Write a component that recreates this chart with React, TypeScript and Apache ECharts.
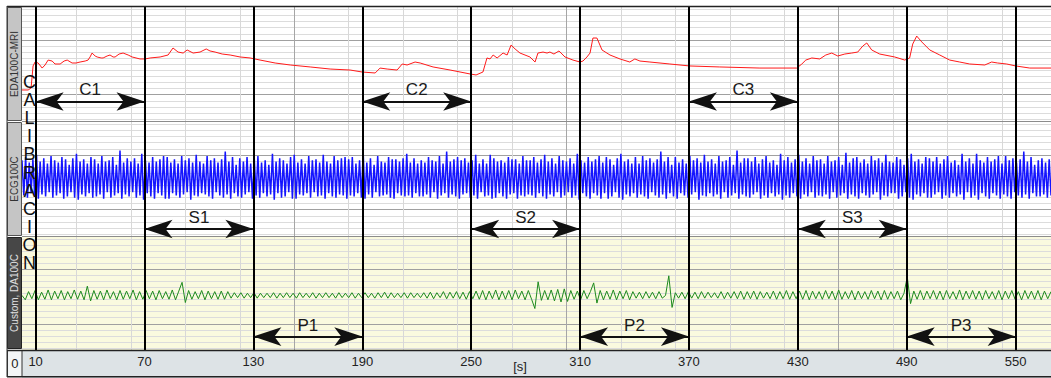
import React, { useEffect, useRef } from 'react';
import * as echarts from 'echarts';

const FONT = '"Liberation Sans", Arial, sans-serif';

// time axis (s)
const X_MIN = 2.5;
const X_MAX = 569.5;
const MARKERS = [10, 70, 130, 190, 250, 310, 370, 430, 490, 550];
const TICK_LABELS = [10, 70, 130, 190, 250, 310, 370, 430, 490, 550];
const X_MINOR = [32.5, 62.5, 92.5, 122.5, 182.5, 212.5, 242.5, 272.5, 332.5, 362.5, 392.5, 422.5, 482.5, 512.5, 542.5];
const X_MAJOR = [152.5, 302.5, 452.5];

// panel value axes (divisions)
const Y_MIN = -2.4;
const Y_MAX = 8;
const Y_MAJOR = [0, 5];

const PANEL_NAMES = ['EDA100C-MRI', 'ECG100C', 'Custom, DA100C'];

const C_SEGMENTS = [[10, 70], [190, 250], [370, 430]];
const C_LABELS = ['C1', 'C2', 'C3'];
const S_SEGMENTS = [[70, 130], [250, 310], [430, 490]];
const S_LABELS = ['S1', 'S2', 'S3'];
const P_SEGMENTS = [[130, 190], [310, 370], [490, 550]];
const P_LABELS = ['P1', 'P2', 'P3'];

// EDA trace
const EDA_T = [2.5, 5.9, 7.5, 8.6, 9.7, 11.4, 13.6, 15.2, 16.9, 19.1, 20.7, 23.5, 25.7, 27.4, 30.1, 32.3, 34.5, 37.3, 38.9, 40.0, 41.1, 42.8, 43.9, 46.1, 47.2, 49.4, 51.0, 52.7, 53.8, 56.0, 58.2, 61.0, 63.2, 67.5, 70.3,
  73.1, 78.6, 83.0, 85.7, 88.5, 91.3, 93.5, 96.8, 100.6, 104.0, 106.1, 108.9, 112.8, 117.2, 122.7, 128.2, 133.7, 142.0, 150.3, 161.3, 172.3, 183.3, 189.9,
  197.1, 199.8, 203.7, 209.2, 212.0, 214.7, 219.1, 221.9, 229.0, 238.4, 249.4, 252.7, 256.5, 258.7, 260.4, 262.1, 264.3, 267.6, 269.8, 272.0, 274.2, 276.9, 282.4, 285.2, 286.8, 289.6, 291.8, 293.4, 295.6, 298.4, 301.7, 306.1, 310.0, 311.6, 313.8, 315.5, 317.1, 319.3, 322.1, 326.5, 332.0, 337.4, 340.2, 343.0, 348.5,
  359.5, 370.5, 387.0, 409.1, 429.4, 432.2, 434.4, 437.7, 442.1, 445.4, 448.7, 452.0, 455.9, 459.7, 463.0, 465.8, 468.0, 470.7, 475.1, 483.4, 488.9, 491.6, 493.3, 495.5, 498.3, 502.7, 508.2, 513.7, 519.2, 524.7, 533.0, 536.8, 540.1, 545.1, 550.1, 557.8, 569.5];
const EDA_V = [0.43, 0.43, 0.61, 2.62, 2.98, 2.89, 2.43, 2.71, 3.16, 3.07, 2.80, 2.80, 3.07, 3.16, 2.89, 2.89, 2.98, 3.07, 3.16, 3.44, 3.80, 3.53, 3.44, 3.35, 3.35, 3.53, 3.62, 3.44, 3.44, 3.71, 3.80, 3.62, 3.44, 3.26, 3.26,
  3.35, 3.44, 3.62, 4.26, 3.89, 3.80, 4.08, 3.80, 3.89, 4.17, 3.99, 3.89, 3.71, 3.62, 3.44, 3.35, 3.16, 2.89, 2.71, 2.53, 2.34, 2.25, 2.07,
  1.98, 2.43, 2.34, 2.25, 2.80, 2.71, 2.98, 2.89, 2.53, 2.25, 1.89, 1.80, 2.07, 3.35, 3.26, 3.62, 3.35, 3.80, 3.62, 4.53, 4.17, 3.80, 3.44, 2.98, 3.80, 3.89, 3.80, 3.89, 3.71, 3.99, 3.44, 3.16, 2.98, 3.07, 3.44, 3.80, 5.17, 5.17, 4.08, 3.62, 3.26, 2.98, 3.26, 3.07, 2.98,
  2.80, 2.62, 2.53, 2.43, 2.43, 2.80, 3.16, 3.35, 3.26, 3.62, 3.80, 3.53, 3.71, 3.80, 3.89, 4.44, 4.72, 4.08, 3.71, 3.44, 3.16, 3.35, 4.62, 5.35, 4.81, 4.08, 3.62, 3.16, 2.98, 2.80, 2.71, 2.98, 2.89, 2.80, 2.62, 2.43, 2.43];

// ECG trace, one sample per second from X_MIN
const ECG_STEP = 1.0;
const ECG = [
  4.5, 1.3, 4.8, 1.1, 4.3, 1.5, 4.6, 1.2, 5.0, 1.0, 4.4, 1.4, 4.7, 1.2, 4.2, 1.6, 4.9, 1.1, 4.5, 1.3,
  4.3, 1.5, 4.8, 1.0, 4.6, 1.2, 4.1, 1.6, 4.7, 1.1, 5.1, 0.9, 4.4, 1.4, 4.6, 1.2, 4.2, 1.5, 4.8, 1.1,
  4.6, 1.2, 4.2, 1.4, 4.9, 1.0, 4.4, 1.6, 4.5, 1.1, 4.8, 1.3, 4.1, 1.5, 5.4, 1.0, 4.3, 1.4, 4.7, 1.2,
  4.4, 1.6, 4.7, 1.1, 4.2, 1.3, 5.1, 0.9, 4.5, 1.5, 4.3, 1.2, 4.8, 1.0, 4.4, 1.5, 4.6, 1.3, 4.9, 1.0,
  4.8, 1.0, 4.3, 1.5, 4.6, 1.3, 4.2, 1.1, 4.9, 1.4, 4.5, 1.6, 4.7, 0.9, 4.3, 1.3, 5.0, 1.2, 4.4, 1.5,
  4.2, 1.4, 4.9, 1.2, 4.5, 1.0, 4.7, 1.6, 4.3, 1.3, 4.6, 1.1, 5.3, 1.4, 4.4, 1.0, 4.8, 1.5, 4.1, 1.2,
  4.7, 1.1, 4.4, 1.4, 4.8, 1.6, 4.2, 1.0, 4.6, 1.3, 4.9, 1.1, 4.3, 1.5, 4.5, 1.2, 4.1, 1.4, 5.1, 0.9,
  4.4, 1.5, 4.7, 1.1, 4.5, 1.2, 4.2, 1.6, 4.8, 1.0, 5.0, 1.0, 4.3, 1.4, 4.6, 1.3, 4.2, 1.5, 4.9, 1.1,
  4.5, 1.6, 4.6, 1.2, 4.3, 1.3, 5.0, 1.0, 4.4, 1.5, 4.2, 1.2, 4.9, 1.1, 4.5, 1.4, 4.7, 1.3, 4.8, 1.0,
  4.6, 1.3, 4.8, 1.2, 4.2, 1.5, 4.5, 1.1, 5.2, 1.0, 4.3, 1.4, 4.7, 1.1, 4.1, 1.6, 4.9, 1.2, 4.4, 1.3,
  4.3, 1.4, 4.8, 1.1, 4.6, 1.0, 4.6, 1.5, 4.4, 1.3, 4.7, 1.2, 5.1, 1.3, 4.3, 1.1, 4.7, 1.5, 4.2, 1.2,
  4.5, 1.2, 4.3, 1.4, 4.8, 1.1, 4.5, 1.6, 4.4, 1.0, 4.9, 1.3, 4.2, 1.5, 5.3, 1.1, 4.4, 1.4, 4.6, 1.2,
  4.8, 1.0, 4.5, 1.4, 4.7, 1.5, 4.3, 1.1, 4.5, 1.3, 5.0, 1.0, 4.2, 1.6, 4.6, 1.2, 4.2, 1.3, 5.0, 1.0,
  4.7, 1.1, 4.4, 1.5, 4.5, 1.2, 4.3, 1.0, 4.8, 1.4, 4.6, 1.5, 4.6, 1.0, 4.2, 1.3, 4.9, 1.2, 4.5, 1.4,
  4.5, 1.3, 4.8, 1.1, 4.3, 1.5, 4.6, 1.2, 5.0, 1.0, 4.4, 1.4, 4.7, 1.2, 4.2, 1.6, 4.9, 1.1, 4.5, 1.3,
  4.4, 1.6, 4.7, 1.1, 4.2, 1.3, 5.1, 0.9, 4.5, 1.5, 4.3, 1.2, 4.8, 1.0, 4.4, 1.5, 4.6, 1.3, 4.9, 1.0,
  4.3, 1.5, 4.8, 1.0, 4.6, 1.2, 4.1, 1.6, 4.7, 1.1, 5.1, 0.9, 4.4, 1.4, 4.6, 1.2, 4.2, 1.5, 4.8, 1.1,
  4.2, 1.4, 4.9, 1.2, 4.5, 1.0, 4.7, 1.6, 4.3, 1.3, 4.6, 1.1, 5.3, 1.4, 4.4, 1.0, 4.8, 1.5, 4.1, 1.2,
  4.8, 1.0, 4.3, 1.5, 4.6, 1.3, 4.2, 1.1, 4.9, 1.4, 4.5, 1.6, 4.7, 0.9, 4.3, 1.3, 5.0, 1.2, 4.4, 1.5,
  4.6, 1.2, 4.2, 1.4, 4.9, 1.0, 4.4, 1.6, 4.5, 1.1, 4.8, 1.3, 4.1, 1.5, 5.4, 1.0, 4.3, 1.4, 4.7, 1.2,
  4.7, 1.1, 4.4, 1.4, 4.8, 1.6, 4.2, 1.0, 4.6, 1.3, 4.9, 1.1, 4.3, 1.5, 4.5, 1.2, 4.1, 1.4, 5.1, 0.9,
  4.5, 1.3, 4.8, 1.1, 4.3, 1.5, 4.6, 1.2, 5.0, 1.0, 4.4, 1.4, 4.7, 1.2, 4.2, 1.6, 4.9, 1.1, 4.5, 1.3,
  4.6, 1.2, 4.2, 1.4, 4.9, 1.0, 4.4, 1.6, 4.5, 1.1, 4.8, 1.3, 4.1, 1.5, 5.2, 1.0, 4.3, 1.4, 4.7, 1.2,
  4.8, 1.0, 4.3, 1.5, 4.6, 1.3, 4.2, 1.1, 4.9, 1.4, 4.5, 1.6, 4.7, 0.9, 4.3, 1.3, 5.0, 1.2, 4.4, 1.5,
  4.3, 1.5, 4.8, 1.0, 4.6, 1.2, 4.1, 1.6, 4.7, 1.1, 5.1, 0.9, 4.4, 1.4, 4.6, 1.2, 4.2, 1.5, 4.8, 1.1,
  4.7, 1.1, 4.4, 1.4, 4.8, 1.6, 4.2, 1.0, 4.6, 1.3, 4.9, 1.1, 4.3, 1.5, 4.5, 1.2, 4.1, 1.4, 5.1, 0.9,
  4.4, 1.6, 4.7, 1.1, 4.2, 1.3, 5.1, 0.9, 4.5, 1.5, 4.3, 1.2, 4.8, 1.0, 4.4, 1.5, 4.6, 1.3, 4.9, 1.0,
  4.2, 1.4, 4.9, 1.2, 4.5, 1.0, 4.7, 1.6, 4.3, 1.3, 4.6, 1.1, 5.3, 1.4, 4.4, 1.0, 4.8, 1.5, 4.1, 1.2,
  4.5, 1.2, 4.7, 1.4, 4.3, 1.1, 4.6, 1.3,
];

// Custom DA100C trace, one sample per 1.8 s from X_MIN
const GREEN_STEP = 1.8;
const GREEN = [
  2.6, 2.2, 2.95, 2.3, 3.05, 2.2, 2.9, 2.25, 3.1, 2.2, 3.0, 2.3, 3.05, 2.2, 2.95, 2.3, 3.1, 2.25, 3.0, 2.2,
  3.45, 2.1, 3.05, 2.25, 3.0, 2.2, 3.1, 2.3, 2.95, 2.2, 3.05, 2.25, 3.0, 2.3, 3.1, 2.2, 2.95, 2.25, 3.05, 2.3,
  3.0, 2.2, 3.05, 2.3, 2.95, 2.25, 3.1, 2.2, 3.0, 3.8, 1.95, 3.05, 2.25, 2.95, 2.3, 3.05, 2.2, 3.0, 2.3, 2.95,
  2.25, 3.0, 2.25, 2.95, 2.35, 2.85, 2.4, 2.85, 2.35, 2.8, 2.4, 2.85, 2.35, 2.8, 2.4, 2.8, 2.4, 2.85, 2.35, 2.8,
  2.4, 2.85, 2.4, 2.8, 2.35, 2.85, 2.4, 2.8, 2.4, 2.85, 2.35, 2.8, 2.4, 2.85, 2.4, 2.8, 2.35, 2.85, 2.4, 2.8,
  2.4, 2.85, 2.35, 2.8, 2.4, 2.85, 2.4, 2.8, 2.35, 2.85, 2.4, 2.9, 2.35, 2.85, 2.4, 2.8, 2.4, 2.85, 2.35, 2.85,
  2.4, 2.8, 2.4, 2.85, 2.35, 2.9, 2.3, 2.85, 2.4, 2.95, 2.3, 2.9, 2.35, 2.95, 2.3, 2.9, 2.25, 2.95, 2.3, 3.0,
  2.25, 3.05, 2.2, 3.0, 2.3, 3.1, 2.2, 3.0, 2.25, 3.05, 2.2, 3.1, 2.3, 3.0, 2.2, 3.05, 2.25, 1.4, 3.85, 2.15,
  3.05, 2.2, 3.1, 2.1, 3.15, 2.0, 3.2, 2.05, 3.05, 2.25, 3.0, 2.2, 3.05, 2.3, 2.95, 3.75, 1.9, 3.05, 2.2, 3.0,
  2.25, 3.1, 2.2, 3.0, 2.3, 3.05, 2.2, 2.95, 2.35, 2.9, 2.3, 2.95, 2.35, 2.9, 2.3, 2.95, 2.35, 2.6, 4.4, 1.5,
  2.85, 2.35, 2.9, 2.3, 2.95, 2.35, 2.9, 2.3, 2.95, 2.35, 2.9, 2.4, 2.85, 2.35, 2.95, 2.3, 2.9, 2.35, 2.95, 2.3,
  3.0, 2.25, 2.95, 2.3, 3.0, 2.25, 2.95, 2.35, 2.9, 2.3, 3.0, 2.25, 2.95, 2.3, 3.05, 2.25, 2.95, 2.3, 3.0, 2.25,
  3.05, 2.2, 3.0, 2.3, 2.95, 2.25, 3.05, 2.3, 3.0, 2.2, 3.1, 2.25, 2.95, 2.3, 3.05, 2.2, 3.0, 2.3, 2.95, 2.25,
  3.05, 2.3, 3.0, 2.2, 3.05, 2.25, 2.95, 2.3, 3.0, 2.2, 2.8, 4.3, 1.85, 3.0, 2.25, 3.05, 2.2, 3.0, 2.3, 3.05,
  2.25, 3.0, 2.2, 3.05, 2.3, 2.95, 2.25, 3.1, 2.2, 3.0, 2.3, 3.05, 2.25, 3.0, 2.2, 3.05, 2.3, 2.95, 2.25, 3.05,
  2.2, 3.0, 2.3, 3.05, 2.25, 2.95, 2.2, 3.05, 2.3, 3.0, 2.25, 3.05, 2.2, 3.0, 2.3, 2.95,
];

const C_Y = -0.62;
const S_Y = -1.76;
const P_Y = -1.17;

function yMinorValues(): number[] {
  const out: number[] = [];
  const step = 5 / 9;
  for (let k = -4; k <= 14; k++) {
    if (k % 9 === 0) continue;
    out.push(+(k * step).toFixed(4));
  }
  return out;
}

function arrowMarkLine(segs: number[][], labels: string[], yv: number) {
  return {
    silent: true,
    symbol: ['arrow', 'arrow'],
    symbolSize: [14, 28],
    lineStyle: { color: '#111', width: 2, type: 'solid' },
    label: { show: true, position: 'middle', formatter: '{b}', fontSize: 17, color: '#1a1a1a', fontFamily: FONT, distance: 3 },
    emphasis: { disabled: true },
    data: segs.map((s, k) => [{ coord: [s[0], yv], name: labels[k] }, { coord: [s[1], yv] }]),
  };
}

function buildOption() {
  const yMinor = yMinorValues();
  const grids = [
    { left: 22, right: 0, top: 7, height: 114 },
    { left: 22, right: 0, top: 122, height: 114 },
    { left: 22, right: 0, top: 236.5, height: 113.5, show: true, backgroundColor: '#fafadf', borderWidth: 0 },
    { left: 22, right: 0, top: 7, height: 343 },
  ];
  const xAxis: any[] = [0, 1, 2].map((g) => ({ gridIndex: g, type: 'value', min: X_MIN, max: X_MAX, show: false }));
  xAxis.push(
    { gridIndex: 3, type: 'value', min: X_MIN, max: X_MAX, axisLine: { show: false }, axisTick: { show: false, customValues: X_MINOR }, axisLabel: { show: false }, splitLine: { show: true, lineStyle: { color: '#d8d8d8', width: 1 } } },
    { gridIndex: 3, type: 'value', min: X_MIN, max: X_MAX, axisLine: { show: false }, axisTick: { show: false, customValues: X_MAJOR }, axisLabel: { show: false }, splitLine: { show: true, lineStyle: { color: '#a6a6a6', width: 1 } } },
    { gridIndex: 3, type: 'value', min: X_MIN, max: X_MAX, position: 'bottom', axisLine: { show: false }, axisTick: { show: false }, splitLine: { show: false },
      axisLabel: { show: true, customValues: TICK_LABELS, fontSize: 13, color: '#222', fontFamily: FONT, margin: 5 } },
  );
  const yAxis: any[] = [];
  [0, 1, 2].forEach((g) => {
    yAxis.push({ gridIndex: g, type: 'value', min: Y_MIN, max: Y_MAX, position: 'left', axisLine: { show: false }, axisTick: { show: false, customValues: yMinor }, axisLabel: { show: false }, splitLine: { show: true, lineStyle: { color: '#dcdcdc', width: 1 } } });
    yAxis.push({ gridIndex: g, type: 'value', min: Y_MIN, max: Y_MAX, position: 'right', axisLine: { show: false }, axisTick: { show: false, customValues: Y_MAJOR }, axisLabel: { show: false }, splitLine: { show: true, lineStyle: { color: '#a0a0a0', width: 1 } } });
  });
  yAxis.push({ gridIndex: 3, type: 'value', min: 0, max: 1, show: false });

  const series: any[] = [
    {
      type: 'line', xAxisIndex: 0, yAxisIndex: 1, showSymbol: false, symbol: 'none', silent: true, z: 3,
      lineStyle: { color: '#ff1a1a', width: 1 },
      data: EDA_T.map((t, i) => [t, EDA_V[i]]),
      markLine: arrowMarkLine(C_SEGMENTS, C_LABELS, C_Y),
    },
    {
      type: 'line', xAxisIndex: 1, yAxisIndex: 3, showSymbol: false, symbol: 'none', silent: true, z: 3,
      lineStyle: { color: '#1414ff', width: 1.5 },
      data: ECG.map((v, i) => [X_MIN + i * ECG_STEP, v]),
      markLine: arrowMarkLine(S_SEGMENTS, S_LABELS, S_Y),
    },
    {
      type: 'line', xAxisIndex: 2, yAxisIndex: 5, showSymbol: false, symbol: 'none', silent: true, z: 3,
      lineStyle: { color: '#1e8a1e', width: 1 },
      data: GREEN.map((v, i) => [X_MIN + i * GREEN_STEP, v]),
      markLine: arrowMarkLine(P_SEGMENTS, P_LABELS, P_Y),
    },
    {
      type: 'line', xAxisIndex: 5, yAxisIndex: 6, showSymbol: false, symbol: 'none', silent: true, z: 6,
      data: [[X_MIN, 0.5]], lineStyle: { opacity: 0 },
      markLine: {
        silent: true, symbol: ['none', 'none'], label: { show: false }, emphasis: { disabled: true },
        lineStyle: { color: '#000', width: 2, type: 'solid' },
        data: MARKERS.map((x) => ({ xAxis: x })),
      },
    },
  ];

  const stripText = (y: number, text: string, fill: string) => ({
    type: 'text', x: 14.75, y, rotation: Math.PI / 2, z: 12,
    style: { text, fontSize: 10, fill, align: 'center', verticalAlign: 'middle', fontFamily: FONT },
  });

  const graphic: any[] = [
    // axis strip
    { type: 'rect', z: -1, shape: { x: 22, y: 350, width: 1029, height: 28 }, style: { fill: '#dde3e6' } },
    { type: 'rect', z: 10, shape: { x: 7.5, y: 350.5, width: 14.5, height: 26 }, style: { fill: '#f3f5f6', stroke: '#333', lineWidth: 1 } },
    { type: 'text', z: 12, x: 14.75, y: 363, style: { text: '0', fontSize: 13, fill: '#222', align: 'center', verticalAlign: 'middle', fontFamily: FONT } },
    { type: 'text', z: 12, x: 520, y: 366, style: { text: '[s]', fontSize: 13, fill: '#222', align: 'center', verticalAlign: 'middle', fontFamily: FONT } },
    { type: 'line', z: 11, shape: { x1: 7, y1: 350.5, x2: 1051, y2: 350.5 }, style: { stroke: '#222', lineWidth: 1.5 } },
    { type: 'line', z: 11, shape: { x1: 7, y1: 376.8, x2: 1051, y2: 376.8 }, style: { stroke: '#222', lineWidth: 1.5 } },
    // outer frame
    { type: 'line', z: 11, shape: { x1: 7, y1: 6.5, x2: 1051, y2: 6.5 }, style: { stroke: '#222', lineWidth: 1.5 } },
    { type: 'line', z: 11, shape: { x1: 7, y1: 6, x2: 7, y2: 377 }, style: { stroke: '#333', lineWidth: 1 } },
    // panel separators
    { type: 'line', z: 1, shape: { x1: 22, y1: 121.5, x2: 1051, y2: 121.5 }, style: { stroke: '#8c8c8c', lineWidth: 1 } },
    { type: 'line', z: 1, shape: { x1: 22, y1: 236.5, x2: 1051, y2: 236.5 }, style: { stroke: '#8c8c8c', lineWidth: 1 } },
    // label strips
    { type: 'rect', z: 10, shape: { x: 7.5, y: 7.5, width: 14, height: 113 }, style: { fill: '#c5c5c5', stroke: '#555', lineWidth: 1 } },
    { type: 'rect', z: 10, shape: { x: 7.5, y: 122.5, width: 14, height: 113 }, style: { fill: '#c5c5c5', stroke: '#555', lineWidth: 1 } },
    { type: 'rect', z: 10, shape: { x: 7.5, y: 237.5, width: 14, height: 111 }, style: { fill: '#474747', stroke: '#222', lineWidth: 1 } },
    stripText(64, PANEL_NAMES[0], '#333'),
    stripText(179, PANEL_NAMES[1], '#333'),
    stripText(293, PANEL_NAMES[2], '#e0e0e0'),
    // vertical calibration word
    { type: 'text', z: 20, x: 29.5, y: 73, style: { text: 'C\nA\nL\nI\nB\nR\nA\nC\nI\nO\nN', fontSize: 18, lineHeight: 18.1, fill: '#111', align: 'center', verticalAlign: 'top', fontFamily: FONT } },
  ];

  return {
    animation: false,
    backgroundColor: '#ffffff',
    grid: grids,
    xAxis,
    yAxis,
    series,
    graphic,
  };
}

export default function App() {
  const ref = useRef<HTMLDivElement>(null);
  useEffect(() => {
    document.body.style.margin = '0';
    const chart = echarts.init(ref.current as HTMLDivElement, null, { renderer: 'svg' });
    chart.setOption(buildOption() as any);
    return () => chart.dispose();
  }, []);
  return <div ref={ref} style={{ width: 1051, height: 378, overflow: 'hidden' }} />;
}
